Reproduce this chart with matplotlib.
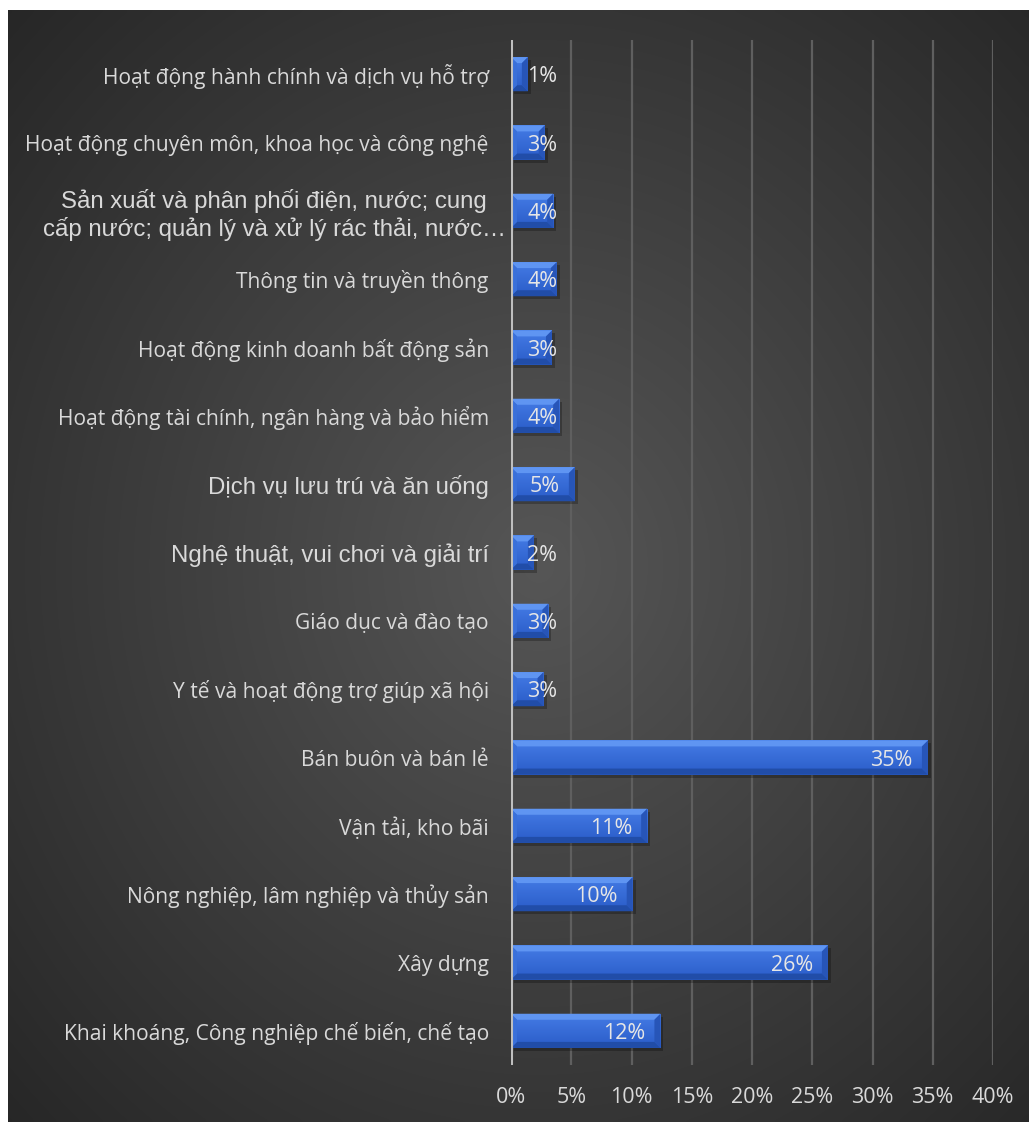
import numpy as np
import matplotlib
matplotlib.use("Agg")
import matplotlib.pyplot as plt
from matplotlib.patches import Polygon
from matplotlib.transforms import ScaledTranslation

# categories top to bottom, as they appear in the chart
categories = [
    "Hoạt động hành chính và dịch vụ hỗ trợ",
    "Hoạt động chuyên môn, khoa học và công nghệ",
    "Sản xuất và phân phối điện, nước; cung\ncấp nước; quản lý và xử lý rác thải, nước…",
    "Thông tin và truyền thông",
    "Hoạt động kinh doanh bất động sản",
    "Hoạt động tài chính, ngân hàng và bảo hiểm",
    "Dịch vụ lưu trú và ăn uống",
    "Nghệ thuật, vui chơi và giải trí",
    "Giáo dục và đào tạo",
    "Y tế và hoạt động trợ giúp xã hội",
    "Bán buôn và bán lẻ",
    "Vận tải, kho bãi",
    "Nông nghiệp, lâm nghiệp và thủy sản",
    "Xây dựng",
    "Khai khoáng, Công nghiệp chế biến, chế tạo",
]
shares = [0.014, 0.028, 0.035, 0.038, 0.034, 0.040, 0.053, 0.019,
          0.031, 0.027, 0.346, 0.113, 0.101, 0.263, 0.124]
# labels drawn in Arial-like font in the source
arial_rows = [2, 6, 7]
xticks = [0, 0.05, 0.10, 0.15, 0.20, 0.25, 0.30, 0.35, 0.40]

W, H = 1029, 1122
DPI = 100
fig = plt.figure(figsize=(W / DPI, H / DPI), dpi=DPI, facecolor="white")

# background panel with radial gradient
bg = fig.add_axes([8 / W, 0, 1 - 8 / W, 1 - 10 / H])
bg.set_axis_off()
yy, xx = np.mgrid[0:1:300j, 0:1:300j]
r = np.sqrt(((xx - 0.52) / 0.75) ** 2 + ((yy - 0.5) / 0.75) ** 2)
r = np.clip(r, 0, 1)
c0 = np.array([0x56, 0x56, 0x56]) / 255
c1 = np.array([0x25, 0x25, 0x25]) / 255
img = c0[None, None, :] * (1 - r[..., None]) + c1[None, None, :] * r[..., None]
bg.imshow(img, extent=[0, 1, 0, 1], aspect="auto", interpolation="bicubic")
bg.set_xlim(0, 1)
bg.set_ylim(0, 1)

ax = fig.add_axes([511 / W, 1 - 1065 / H, (993 - 511) / W, (1065 - 40) / H])
ax.patch.set_alpha(0)
ypos = np.arange(len(categories))
bars = ax.barh(ypos, shares, height=0.5, color="#3366cc", zorder=3)
ax.set_xlim(0, 0.40)
ax.set_ylim(len(categories) - 0.5, -0.5)

for s in ax.spines.values():
    s.set_visible(False)
ax.axvline(0, color="#bfbfbf", lw=2.2, zorder=4)
ax.set_xticks(xticks)
ax.set_xticklabels([f"{int(round(t * 100))}%" for t in xticks],
                   family=["Open Sans", "DejaVu Sans"], fontsize=15.5, color="#d9d9d9")
ax.grid(axis="x", color="#5f5f5f", lw=1.6, zorder=1)
ax.tick_params(axis="x", length=0, pad=16)
ax.tick_params(axis="y", length=0, pad=16)
ax.set_yticks(ypos)
ax.set_yticklabels(categories, color="#d9d9d9")
for i, lab in enumerate(ax.get_yticklabels()):
    if i in arial_rows:
        lab.set_family(["Liberation Sans", "DejaVu Sans"])
        lab.set_fontsize(17.3)
    else:
        lab.set_family(["Open Sans", "DejaVu Sans"])
        lab.set_fontsize(15.1)
    if i == 2:
        lab.set_multialignment("center")
        lab.set_transform(lab.get_transform() + ScaledTranslation(17 / DPI, 0, fig.dpi_scale_trans))

# bevel look for each bar, built from the bar geometry in pixels
fig.canvas.draw()
for b in bars:
    x0, y0 = b.get_x(), b.get_y()
    w, h = b.get_width(), b.get_height()
    (L, Bt), (R, Tp) = ax.transData.transform([(x0, y0), (x0 + w, y0 + h)])
    lo, hi = min(Bt, Tp), max(Bt, Tp)
    bv = min(6, (R - L) / 2, (hi - lo) / 2)
    # shadow
    ax.add_patch(Polygon([(L + 3, lo - 3), (R + 3, lo - 3), (R + 3, hi - 3), (L + 3, hi - 3)],
                         closed=True, transform=None, facecolor="black", alpha=0.25,
                         edgecolor="none", zorder=2))
    # gradient body
    grad = np.linspace(0, 1, 50)[:, None]
    top = np.array([0x45, 0x7c, 0xe6]) / 255
    bot = np.array([0x2a, 0x5c, 0xc8]) / 255
    gimg = top * (1 - grad[..., None]) + bot * grad[..., None]
    im = ax.imshow(np.repeat(gimg, 2, axis=1), extent=[x0, x0 + w, y0 + h, y0],
                   aspect="auto", zorder=3.1, interpolation="bilinear")
    im.set_clip_path(b)
    parts = [
        ([(L, hi), (R, hi), (R - bv, hi - bv), (L + bv, hi - bv)], "#5f95f2"),
        ([(L, lo), (R, lo), (R - bv, lo + bv), (L + bv, lo + bv)], "#214da8"),
        ([(L, lo), (L, hi), (L + bv, hi - bv), (L + bv, lo + bv)], "#3a70da"),
        ([(R, lo), (R, hi), (R - bv, hi - bv), (R - bv, lo + bv)], "#2755b8"),
    ]
    for pts, col in parts:
        ax.add_patch(Polygon(pts, closed=True, transform=None, facecolor=col,
                             edgecolor="none", zorder=3.2))

# value labels, inside end; clamped so short bars still show them
for i, v in enumerate(shares):
    xr = max(v - 0.0125, 0.0385)
    ax.text(xr, i + 0.04, f"{int(round(v * 100))}%", ha="right", va="center",
            family=["Open Sans", "DejaVu Sans"], fontsize=15.5, color="#e6e6e6", zorder=5)

fig.savefig("out.png", dpi=DPI, facecolor="white")
